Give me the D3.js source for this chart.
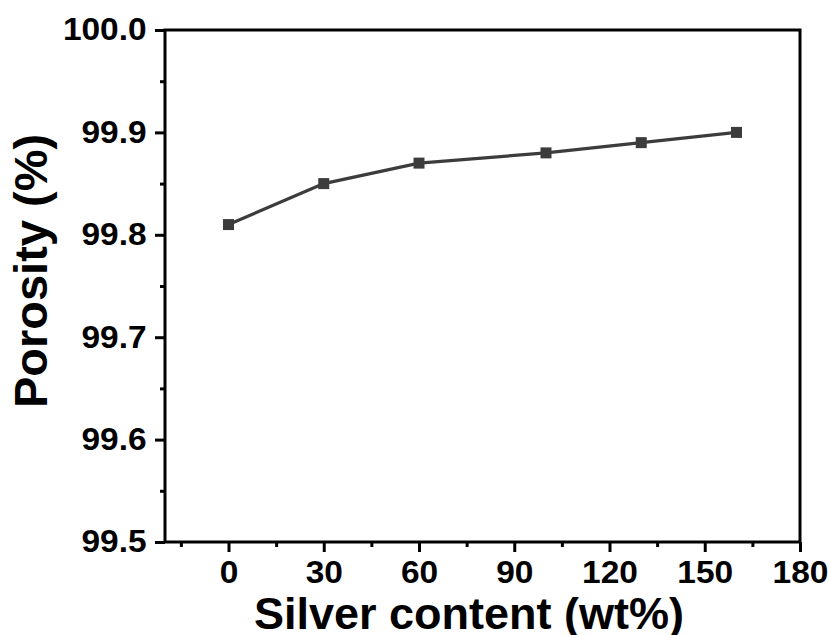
<!DOCTYPE html>
<html>
<head>
<meta charset="utf-8">
<script src="https://cdn.jsdelivr.net/npm/d3@7"></script>
<style>
  body { margin: 0; background: #fff; }
  svg { display: block; font-family: "Liberation Sans", Arial, sans-serif; }
</style>
</head>
<body>
<div id="app"></div>
<script>
// data
const silver = [0, 30, 60, 100, 130, 160]
const porosity = [99.81, 99.85, 99.87, 99.88, 99.89, 99.90]
const xTicks = [0, 30, 60, 90, 120, 150, 180]
const xMinor = [-15, 15, 45, 75, 105, 135, 165]
const yTicks = [99.5, 99.6, 99.7, 99.8, 99.9, 100.0]
const yMinor = [99.55, 99.65, 99.75, 99.85, 99.95]

const W = 829, H = 635
const pLeft = 165, pRight = 800, pTop = 30, pBottom = 542

const svg = d3.select('#app').append('svg')
  .attr('width', W)
  .attr('height', H)

const x = d3.scaleLinear().domain([-20, 180]).range([pLeft, pRight])
const y = d3.scaleLinear().domain([99.5, 100.0]).range([pBottom, pTop])

// box
svg.append('rect')
  .attr('x', pLeft).attr('y', pTop)
  .attr('width', pRight - pLeft).attr('height', pBottom - pTop)
  .attr('fill', 'none').attr('stroke', '#000').attr('stroke-width', 3)

// x axis
const xAxis = svg.append('g').attr('transform', `translate(0,${pBottom})`)
xAxis.call(d3.axisBottom(x).tickValues(xTicks).tickSize(10).tickPadding(9).tickFormat(d3.format('d')))
xAxis.append('g').call(d3.axisBottom(x).tickValues(xMinor).tickSize(5).tickFormat(''))
// y axis
const yAxis = svg.append('g').attr('transform', `translate(${pLeft},0)`)
yAxis.call(d3.axisLeft(y).tickValues(yTicks).tickSize(10).tickPadding(7).tickFormat(d3.format('.1f')))
yAxis.append('g').call(d3.axisLeft(y).tickValues(yMinor).tickSize(5).tickFormat(''))

svg.selectAll('.domain').remove()
svg.selectAll('.tick line').attr('stroke', '#000').attr('stroke-width', 3)
svg.selectAll('.tick text')
  .attr('fill', '#000')
  .attr('transform', 'scale(1.08,1)')
  .style('font-size', '31px')
  .style('font-weight', 'bold')
xAxis.selectAll('.tick text').attr('dy', '0.71em')

// line + markers
const pts = silver.map((s, i) => [s, porosity[i]])
svg.append('path')
  .datum(pts)
  .attr('fill', 'none')
  .attr('stroke', '#3c3c3c')
  .attr('stroke-width', 3.2)
  .attr('d', d3.line().x(d => x(d[0])).y(d => y(d[1])))

const m = 11
svg.selectAll('rect.pt')
  .data(pts)
  .enter()
  .append('rect')
  .attr('class', 'pt')
  .attr('x', d => x(d[0]) - m / 2)
  .attr('y', d => y(d[1]) - m / 2)
  .attr('width', m)
  .attr('height', m)
  .attr('fill', '#3c3c3c')

// titles
svg.append('text')
  .attr('x', 469)
  .attr('y', 629)
  .attr('text-anchor', 'middle')
  .style('font-size', '45px')
  .style('font-weight', 'bold')
  .text('Silver content (wt%)')

svg.append('text')
  .attr('transform', 'translate(47,271) rotate(-90)')
  .attr('text-anchor', 'middle')
  .style('font-size', '47px')
  .style('font-weight', 'bold')
  .text('Porosity (%)')
</script>
</body>
</html>
